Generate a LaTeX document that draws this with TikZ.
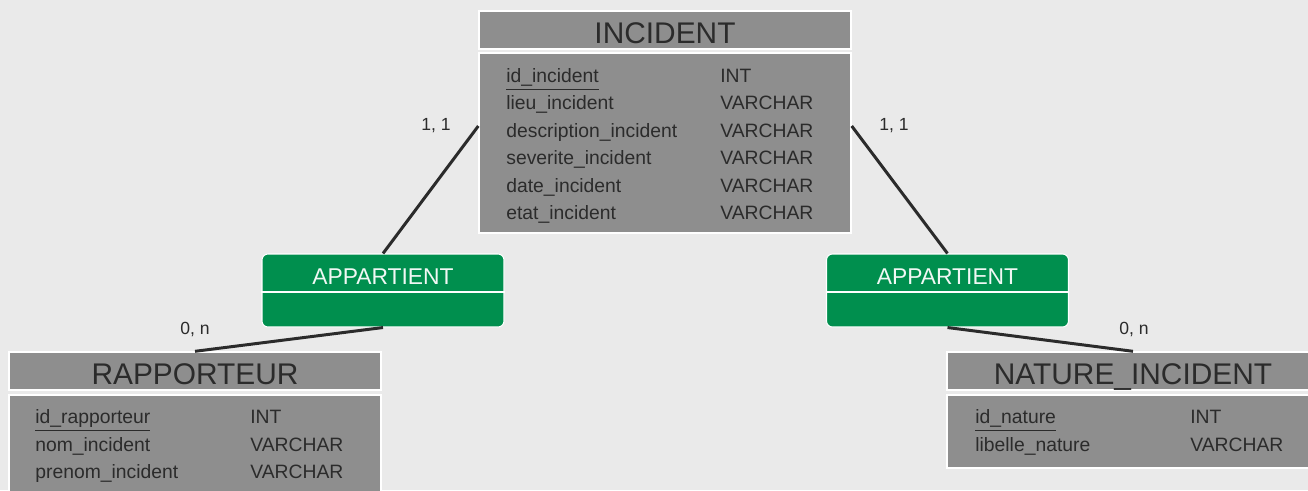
\documentclass[tikz,border=0pt]{standalone}
\usepackage{fontspec}
\setmainfont{Liberation Sans}
\usepackage{tikz}
\definecolor{bgcol}{HTML}{EAEAEA}
\definecolor{boxgray}{HTML}{8E8E8E}
\definecolor{txtdark}{HTML}{2B2B2B}
\definecolor{assocgreen}{HTML}{008F4E}
\tikzstyle{enthead} = [draw=white, fill=boxgray, line width=0.8pt,
minimum width=7.44cm, minimum height=0.76cm, inner sep=0pt,
text height=15.4pt, text depth=0pt,
text=txtdark, font=\fontsize{17}{20}\selectfont]
\tikzstyle{entbody} = [draw=white, fill=boxgray, line width=0.8pt,
minimum width=7.44cm, inner sep=0pt]
\tikzstyle{attr} = [anchor=west, inner sep=0pt, text=txtdark,
text height=11.4pt, text depth=2.5pt, font=\fontsize{11}{13}\selectfont]
\tikzstyle{assoc} = [draw=white, fill=assocgreen, line width=0.6pt,
rounded corners=0.12cm, minimum width=4.84cm, minimum height=1.46cm, inner sep=0pt]
\tikzstyle{assoclbl} = [text=white!94!assocgreen, font=\fontsize{13}{15}\selectfont]
\tikzstyle{link} = [draw=txtdark, line width=1.7pt]
\tikzstyle{card} = [text=txtdark, font=\fontsize{10}{12}\selectfont]
\newcommand{\pk}[1]{\underline{#1}}

\begin{document}
\begin{tikzpicture}
		\useasboundingbox (0,0) rectangle (26.16,9.8);
		\fill[bgcol] (0,0) rectangle (26.16,9.8);
		% INCIDENT
		\node [enthead] (incHead) at (13.3,9.2) {INCIDENT};
		\node [entbody, minimum height=3.6cm] (incBody) at (13.3,6.94) {};
		\node [attr] (incN1) at (10.12,8.30) {\pk{id\_incident}};
		\node [attr] (incN2) at (10.12,7.76) {lieu\_incident};
		\node [attr] (incN3) at (10.12,7.20) {description\_incident};
		\node [attr] (incN4) at (10.12,6.66) {severite\_incident};
		\node [attr] (incN5) at (10.12,6.10) {date\_incident};
		\node [attr] (incN6) at (10.12,5.56) {etat\_incident};
		\node [attr] (incT1) at (14.40,8.30) {INT};
		\node [attr] (incT2) at (14.40,7.76) {VARCHAR};
		\node [attr] (incT3) at (14.40,7.20) {VARCHAR};
		\node [attr] (incT4) at (14.40,6.66) {VARCHAR};
		\node [attr] (incT5) at (14.40,6.10) {VARCHAR};
		\node [attr] (incT6) at (14.40,5.56) {VARCHAR};
		% RAPPORTEUR
		\node [enthead] (rapHead) at (3.9,2.38) {RAPPORTEUR};
		\node [entbody, minimum height=2.3cm] (rapBody) at (3.9,0.75) {};
		\node [attr] (rapN1) at (0.70,1.48) {\pk{id\_rapporteur}};
		\node [attr] (rapN2) at (0.70,0.92) {nom\_incident};
		\node [attr] (rapN3) at (0.70,0.38) {prenom\_incident};
		\node [attr] (rapT1) at (5.00,1.48) {INT};
		\node [attr] (rapT2) at (5.00,0.92) {VARCHAR};
		\node [attr] (rapT3) at (5.00,0.38) {VARCHAR};
		% NATURE_INCIDENT
		\node [enthead] (natHead) at (22.66,2.38) {NATURE\_INCIDENT};
		\node [entbody, minimum height=1.46cm] (natBody) at (22.66,1.17) {};
		\node [attr] (natN1) at (19.50,1.48) {\pk{id\_nature}};
		\node [attr] (natN2) at (19.50,0.92) {libelle\_nature};
		\node [attr] (natT1) at (23.80,1.48) {INT};
		\node [attr] (natT2) at (23.80,0.92) {VARCHAR};
		% associations
		\node [assoc] (assocL) at (7.66,3.99) {};
		\draw [white, line width=0.8pt] ([yshift=-0.03cm]assocL.west) -- ([yshift=-0.03cm]assocL.east);
		\node [assoclbl] (assocLlbl) at (7.66,4.27) {APPARTIENT};
		\node [assoc] (assocR) at (18.95,3.99) {};
		\draw [white, line width=0.8pt] ([yshift=-0.03cm]assocR.west) -- ([yshift=-0.03cm]assocR.east);
		\node [assoclbl] (assocRlbl) at (18.95,4.27) {APPARTIENT};
		% links
		\draw [link] ([yshift=0.34cm]incBody.west) -- (assocL.north);
		\draw [link] (assocL.south) -- (rapHead.north);
		\draw [link] ([yshift=0.34cm]incBody.east) -- (assocR.north);
		\draw [link] (assocR.south) -- (natHead.north);
		% cardinalities
		\node [card] (cardIL) at (8.72,7.29) {1, 1};
		\node [card] (cardR) at (3.9,3.22) {0, n};
		\node [card] (cardIR) at (17.88,7.29) {1, 1};
		\node [card] (cardN) at (22.68,3.22) {0, n};
\end{tikzpicture}
\end{document}
